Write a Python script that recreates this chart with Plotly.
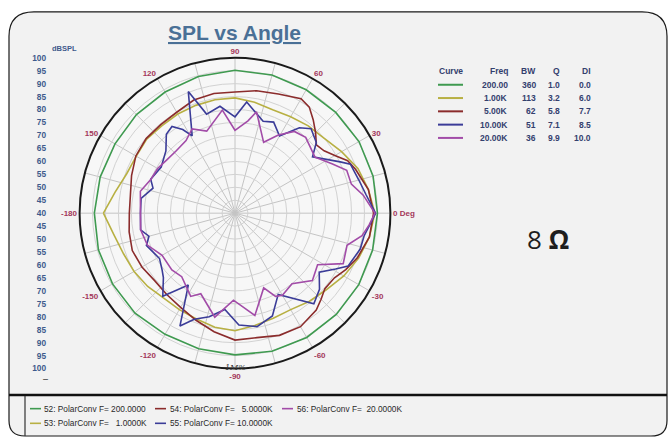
import plotly.graph_objects as go

W, H = 670, 442

# ---------------- data ----------------
green_theta = [-180, -165, -150, -135, -120, -105, -90, -75, -60, -45, -30, -15,
               0, 15, 30, 45, 60, 75, 90, 105, 120, 135, 150, 165, 180]
green_db = [94.3, 94.6, 94.6, 94.6, 94.0, 94.2, 94.7, 95.2, 95.4, 95.3, 95.2, 95.0,
            95.0, 95.2, 95.3, 95.0, 95.0, 95.2, 95.2, 94.6, 94.0, 93.8, 93.5, 93.9, 94.3]

yellow_theta = [-180, -170, -160, -150, -140, -130, -120, -110, -100, -90, -80, -70, -60,
                -50, -40, -30, -20, -10, 0, 10, 20, 30, 40, 50, 60, 70, 80, 90, 100,
                110, 120, 130, 140, 150, 160, 170, 180]
yellow_db = [90.8, 87.5, 85.8, 85.0, 84.0, 82.8, 83.0, 83.5, 84.7, 85.4, 84.0, 83.2, 83.0,
             84.5, 86.0, 88.5, 90.8, 92.7, 94.0, 92.3, 90.5, 87.5, 85.0, 84.0, 83.0, 82.5,
             83.5, 84.5, 84.5, 84.3, 84.2, 84.0, 84.5, 84.0, 84.5, 87.0, 90.8]

brown_theta = [-180, -170, -160, -150, -140, -130, -120, -110, -100, -90, -80, -70, -60,
               -50, -45, -40, -33, -27, -20, -10, 0, 10, 20, 25, 30, 35, 40, 45, 50, 55,
               60, 70, 80, 90, 100, 110, 120, 130, 140, 150, 160, 170, 180]
brown_db = [80.8, 81.5, 82.2, 81.5, 80.5, 81.0, 82.0, 84.0, 86.5, 89.0, 88.8, 90.2, 90.6,
            88.8, 87.0, 85.3, 85.8, 88.0, 90.3, 92.7, 93.5, 92.3, 89.5, 88.0, 84.5, 82.0,
            81.0, 84.0, 87.0, 90.0, 91.0, 89.0, 88.0, 86.8, 86.9, 86.5, 85.0, 84.6, 84.8,
            84.2, 82.5, 81.0, 80.8]

blue_theta = [-180, -170, -165, -160, -149, -142, -138, -131, -123, -116, -111, -104, -96,
              -88, -79, -70, -62, -49, -42, -35, -29, -25, -16, -10, 0, 8, 15, 23, 26, 36,
              41, 48, 53, 60, 67, 73, 84, 90, 98, 106, 111, 119, 122, 126, 131, 138, 148,
              158, 163, 171, 180]
blue_db = [76.5, 77.0, 74.4, 76.4, 74.0, 75.7, 77.2, 82.5, 73.1, 88.5, 83.9, 81.2, 77.4,
           83.2, 84.6, 82.2, 75.5, 86.4, 83.9, 79.7, 84.4, 88.2, 90.3, 90.6, 94.3, 91.1,
           89.5, 88.4, 85.2, 77.0, 81.6, 83.9, 81.3, 74.4, 78.2, 77.1, 83.2, 77.2, 81.7,
           79.8, 90.3, 74.1, 78.1, 81.4, 80.4, 75.9, 73.6, 75.1, 73.1, 76.7, 76.5]

purple_theta = [-180, -170, -160, -150, -138, -130, -118, -113, -101, -91, -79, -69, -64,
                -60, -51, -41, -32, -25, -16, -10, -5, 0, 8, 14, 21, 27, 35, 47, 54, 61,
                68, 78, 82, 90, 97, 109, 117, 124, 133, 142, 150, 158, 167, 180]
purple_db = [76.5, 77.0, 76.0, 72.5, 72.8, 72.0, 76.4, 73.8, 80.9, 73.6, 80.2, 70.9, 75.7,
             76.6, 75.0, 79.6, 77.6, 86.1, 85.0, 89.8, 92.0, 94.0, 90.0, 86.3, 86.2, 82.0,
             77.7, 80.0, 79.0, 74.5, 69.5, 80.0, 76.0, 72.0, 80.1, 73.5, 76.5, 73.8, 73.1,
             73.4, 74.5, 75.0, 77.5, 76.5]

curve_names = ["52: PolarConv F= 200.0000", "53: PolarConv F=   1.0000K",
               "54: PolarConv F=   5.0000K", "55: PolarConv F= 10.0000K",
               "56: PolarConv F=  20.0000K"]
curve_colors = ["#3f9a50", "#b8b043", "#8b2c2c", "#3b3c98", "#a24ca8"]

table_header = ["Curve", "Freq", "BW", "Q", "DI"]
table_freq = ["200.00", "1.00K", "5.00K", "10.00K", "20.00K"]
table_bw = ["360", "113", "62", "51", "36"]
table_q = ["1.0", "3.2", "5.8", "7.1", "9.9"]
table_di = ["0.0", "6.0", "7.7", "8.5", "10.0"]

angle_tickvals = list(range(0, 360, 15))
angle_ticktext = ["0 Deg", "", "30", "", "60", "", "90", "", "120", "", "150", "",
                  "-180", "", "-150", "", "-120", "", "-90", "", "-60", "", "-30", ""]
db_tickvals = list(range(-60, 65, 5))
db_ticktext = [str(40 + abs(v)) for v in db_tickvals]

# ---------------- helpers ----------------
def px(x):
    return x / W


def py(y):
    return 1 - y / H


series = [(green_theta, green_db), (yellow_theta, yellow_db), (brown_theta, brown_db),
          (blue_theta, blue_db), (purple_theta, purple_db)]

fig = go.Figure()
for (th, rr), nm, col in zip(series, curve_names, curve_colors):
    fig.add_trace(go.Scatterpolar(theta=th, r=rr, mode="lines", name=nm,
                                  line=dict(color=col, width=1.6),
                                  hoverinfo="skip", showlegend=False))

# dummy trace so that the cartesian axis used for the dB labels exists
fig.add_trace(go.Scatter(x=[0], y=[0], mode="markers", marker=dict(opacity=0),
                         hoverinfo="skip", showlegend=False))

cx, cy, R = 235, 213, 159
pol_x = [px(cx - R), px(cx + R)]
pol_y = [py(cy + R), py(cy - R)]

fig.update_layout(
    width=W, height=H,
    margin=dict(l=0, r=0, t=0, b=0),
    paper_bgcolor="white",
    plot_bgcolor="rgba(0,0,0,0)",
    showlegend=False,
    hovermode=False,
    polar=dict(
        domain=dict(x=pol_x, y=pol_y),
        bgcolor="#f7f7f7",
        radialaxis=dict(range=[40, 100], tickmode="array",
                        tickvals=list(range(45, 100, 5)),
                        showticklabels=False, ticks="", showline=False,
                        gridcolor="#d2d2d2", gridwidth=1),
        angularaxis=dict(rotation=0, direction="counterclockwise",
                         tickmode="array", tickvals=angle_tickvals,
                         ticktext=angle_ticktext, ticks="",
                         tickfont=dict(family="Arial", size=8, color="#a3375a",
                                       weight="bold"),
                         showline=True, linecolor="#1a1a1a", linewidth=2,
                         gridcolor="#c4c4c4", gridwidth=1),
    ),
    xaxis=dict(domain=[0, 0.05], visible=False, range=[-1, 1], fixedrange=True),
    yaxis=dict(domain=pol_y, range=[-60, 60], anchor="free", position=px(46),
               tickmode="array", tickvals=db_tickvals, ticktext=db_ticktext,
               showgrid=False, zeroline=False, showline=False, ticks="",
               tickfont=dict(family="Arial", size=8.3, color="#3e5a8c", weight="bold"),
               fixedrange=True),
)

shapes = []
# frame with rounded corners
l, t, r_, b = 9, 7, 667, 441
rt, rb = 25, 16
path = (f"M {px(l+rt)},{py(t)} L {px(r_-rt)},{py(t)} Q {px(r_)},{py(t)} {px(r_)},{py(t+rt)} "
        f"L {px(r_)},{py(b-rb)} Q {px(r_)},{py(b)} {px(r_-rb)},{py(b)} "
        f"L {px(l+rb)},{py(b)} Q {px(l)},{py(b)} {px(l)},{py(b-rb)} "
        f"L {px(l)},{py(t+rt)} Q {px(l)},{py(t)} {px(l+rt)},{py(t)} Z")
shapes.append(dict(type="path", xref="paper", yref="paper", path=path,
                   fillcolor="#f2f2f2", line=dict(color="#1a1a1a", width=1.2),
                   layer="below"))
# separator line above bottom legend
shapes.append(dict(type="line", xref="paper", yref="paper", x0=px(l), x1=px(r_),
                   y0=py(399), y1=py(399), line=dict(color="#111", width=2.5)))
shapes.append(dict(type="line", xref="paper", yref="paper", x0=px(25), x1=px(25),
                   y0=py(400), y1=py(441), line=dict(color="#333", width=1.2)))

annotations = []
# title
annotations.append(dict(x=px(234), y=py(28), xref="paper", yref="paper",
                        text="<b><u>SPL vs Angle</u></b>", showarrow=False,
                        font=dict(family="Arial", size=21, color="#4a7096"),
                        xanchor="center", yanchor="middle"))
annotations.append(dict(x=px(50), y=py(45), xref="paper", yref="paper",
                        text="<b>dBSPL</b>", showarrow=False,
                        font=dict(family="Arial", size=7.5, color="#3e5a8c"),
                        xanchor="left", yanchor="middle"))
annotations.append(dict(x=px(45), y=py(383), xref="paper", yref="paper",
                        text="–", showarrow=False,
                        font=dict(family="Arial", size=9, color="#222"),
                        xanchor="center", yanchor="middle"))
annotations.append(dict(x=px(236), y=py(371), xref="paper", yref="paper",
                        text="<i>1M%</i>", showarrow=False,
                        font=dict(family="DejaVu Serif", size=8, color="#333"),
                        xanchor="center", yanchor="middle"))
# 8 ohm
annotations.append(dict(x=px(548), y=py(239), xref="paper", yref="paper",
                        text="8 <b>Ω</b>", showarrow=False,
                        font=dict(family="Open Sans", size=26, color="#1e1e1e"),
                        xanchor="center", yanchor="middle"))

# top-right table
tab_font = dict(family="Arial", size=8.5, color="#34406e", weight="bold")
row_y = [68 + 13.6 * i for i in range(6)]
col_right = [None, 510, 538, 562, 593]
annotations.append(dict(x=px(437), y=py(row_y[0]), xref="paper", yref="paper",
                        text=table_header[0], showarrow=False, font=tab_font,
                        xanchor="left", yanchor="middle"))
for j in range(1, 5):
    annotations.append(dict(x=px(col_right[j]), y=py(row_y[0]), xref="paper",
                            yref="paper", text=table_header[j], showarrow=False,
                            font=tab_font, xanchor="right", yanchor="middle"))
for i in range(5):
    yy = py(row_y[i + 1])
    shapes.append(dict(type="line", xref="paper", yref="paper", x0=px(438), x1=px(463),
                       y0=yy, y1=yy, line=dict(color=curve_colors[i], width=2)))
    for j, col in enumerate([table_freq, table_bw, table_q, table_di]):
        annotations.append(dict(x=px(col_right[j + 1]), y=yy, xref="paper", yref="paper",
                                text=col[i], showarrow=False, font=tab_font,
                                xanchor="right", yanchor="middle"))

# bottom legend (column-first layout)
leg_font = dict(family="Arial", size=8.3, color="#2a2a2a")
leg_pos = [(30, 42, 413), (30, 42, 428), (155, 168, 413), (155, 168, 428), (282, 295, 413)]
for i, (sx, tx, yy) in enumerate(leg_pos):
    shapes.append(dict(type="line", xref="paper", yref="paper", x0=px(sx), x1=px(sx + 11),
                       y0=py(yy), y1=py(yy), line=dict(color=curve_colors[i], width=1.6)))
    annotations.append(dict(x=px(tx), y=py(yy), xref="paper", yref="paper",
                            text=curve_names[i].replace(" ", "\u00a0"), showarrow=False,
                            font=leg_font, xanchor="left", yanchor="middle"))

fig.update_layout(shapes=shapes, annotations=annotations)
fig.write_html("out.html", config={"displayModeBar": False},
               post_script="document.body.style.margin='0';document.body.style.padding='0';")
